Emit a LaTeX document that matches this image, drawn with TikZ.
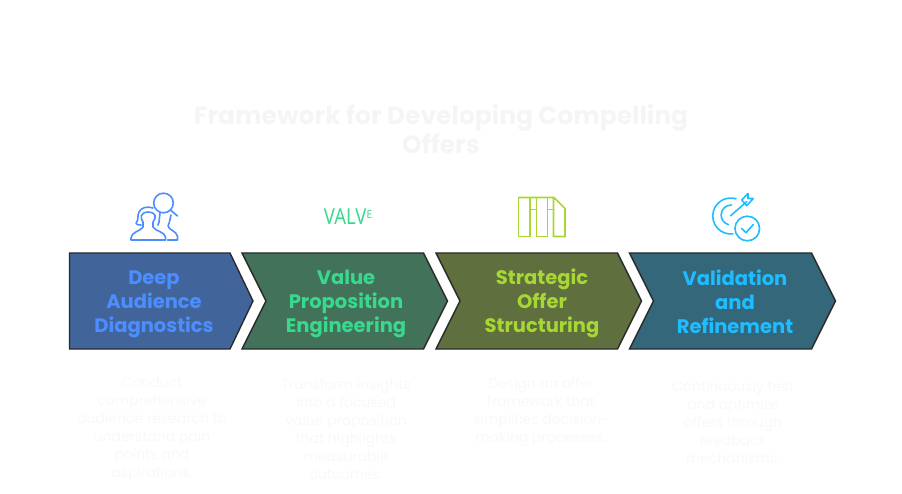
\documentclass[tikz,border=0pt]{standalone}
\usepackage{fontspec}
\setmainfont{Poppins}
\newfontfamily\iconfont{Noto Sans}
\usepackage{tikz}
\definecolor{deepblue}{HTML}{41649A}
\definecolor{deepgreen}{HTML}{42725A}
\definecolor{deepolive}{HTML}{5F6F3E}
\definecolor{deepteal}{HTML}{35677B}
\definecolor{inkblue}{HTML}{4C8EFF}
\definecolor{inkgreen}{HTML}{38D98D}
\definecolor{inkolive}{HTML}{A6D733}
\definecolor{inkteal}{HTML}{1FBDFF}
\definecolor{edgeink}{HTML}{2A2A2A}
\definecolor{paleink}{HTML}{F5F5F5}
\definecolor{paleinkb}{HTML}{F8F8F8}
\tikzset{
 chevron/.style={draw=edgeink,line width=1.4pt,line join=miter},
 steplabel/.style={align=center,font=\fontsize{19.5}{24}\selectfont\bfseries},
 blurb/.style={align=center,text=paleinkb,font=\fontsize{14}{18}\selectfont},
 iconline/.style={line width=1.6pt,line cap=round,line join=round,fill=none}
}
\begin{document}
\begin{tikzpicture}[x=1pt,y=-1pt]
 \useasboundingbox (0,0) rectangle (902,494);
 \node[align=center,text=paleink,font=\fontsize{25}{29}\selectfont\bfseries] (title) at (441,129.5)
  {Framework for Developing Compelling\\Offers};

 % the four arrows
 \draw[chevron,fill=deepblue] (69.5,253) -- (230,253) -- (253,301) -- (230,349) -- (69.5,349) -- cycle;
 \draw[chevron,fill=deepgreen] (242,253) -- (423.5,253) -- (447.5,301) -- (423.5,349) -- (242,349) -- (266,301) -- cycle;
 \draw[chevron,fill=deepolive] (436,253) -- (617.5,253) -- (641.5,301) -- (617.5,349) -- (436,349) -- (460,301) -- cycle;
 \draw[chevron,fill=deepteal] (629.5,253) -- (811.5,253) -- (835.5,301) -- (811.5,349) -- (629.5,349) -- (653.5,301) -- cycle;

 \node[steplabel,text=inkblue] (deep) at (154,304) {Deep\\Audience\\Diagnostics};
 \node[steplabel,text=inkgreen] (value) at (346,304) {Value\\Proposition\\Engineering};
 \node[steplabel,text=inkolive] (strategic) at (542,303) {Strategic\\Offer\\Structuring};
 \node[steplabel,text=inkteal] (validation) at (735,302) {Validation\\and\\Refinement};

 \node[blurb] (deeptext) at (152,429.5) {Conduct\\comprehensive\\audience research to\\understand pain\\points and\\aspirations.};
 \node[blurb] (valuetext) at (346,429) {Transform insights\\into a focused\\value proposition\\that highlights\\measurable\\outcomes.};
 \node[blurb] (strategictext) at (541,412) {Design an offer\\framework that\\simplifies decision-\\making processes.};
 \node[blurb] (validationtext) at (733,422.5) {Continuously test\\and optimize\\offers through\\feedback\\mechanisms.};

 % people and magnifier
 \begin{scope}[iconline,draw=inkblue]
  \draw (163.5,203) circle (9.8);
  \draw (171,210.5) -- (177.5,216);
  \draw (131,240) -- (165.5,240) -- (165.5,237) .. controls (165,232) and (155,231) .. (153,227) -- (153,222)
   .. controls (157,217) and (156,212.5) .. (148,212) .. controls (140,212.5) and (140,218) .. (143,222) -- (143,227)
   .. controls (141,231) and (131,232) .. (131,238) -- cycle;
  \draw (141,225) .. controls (137,225) and (136,224) .. (136,223) .. controls (139,220) and (137,216) .. (139,212)
   .. controls (141,207.5) and (147,206) .. (153,208);
  \draw (160,213) -- (159,222) -- (158,225);
  \draw (167.5,240) -- (177.5,240) -- (177.5,236) .. controls (176,231) and (169,230) .. (168,226)
   .. controls (170,222) and (170,218) .. (171,215);
 \end{scope}

 \node[text=inkgreen,font=\iconfont\fontsize{22}{22}\selectfont,inner sep=0pt] (valve) at (348,217)
  {\scalebox{0.84}[1]{VALV}\raisebox{6pt}{\fontsize{11}{11}\selectfont\bfseries\scalebox{0.9}[1]{E}}};

 % three linked blocks
 \begin{scope}[iconline,draw=inkolive,line cap=butt,line join=miter]
  \draw (518.5,197.5) -- (554,197.5) -- (565,208.5) -- (565,236.5) -- (553.5,236.5) -- (553.5,197.5);
  \draw (518.5,197.5) -- (518.5,236.5) -- (530,236.5) -- (530,197.5);
  \draw (536.5,197.5) -- (536.5,236.5) -- (547.5,236.5) -- (547.5,197.5);
  \draw (530,209.5) -- (536.5,209.5);
  \draw (547.5,209.5) -- (553.5,209.5);
 \end{scope}

 % target and check mark
 \begin{scope}[iconline,draw=inkteal]
  \draw (736,198.8) arc (287:83:18);
  \draw (731.5,205) arc (272:105:10);
  \draw (730.7,215.7) -- (746.7,201.7);
  \draw (741.7,200) -- (748,193.5) -- (748,198.5) -- (753.3,198.5) -- (746.7,205.7) -- cycle;
  \draw (747.3,228.5) circle (12.3);
  \draw (741.7,228.5) -- (746,232.8) -- (753.3,224.5);
 \end{scope}
\end{tikzpicture}
\end{document}
